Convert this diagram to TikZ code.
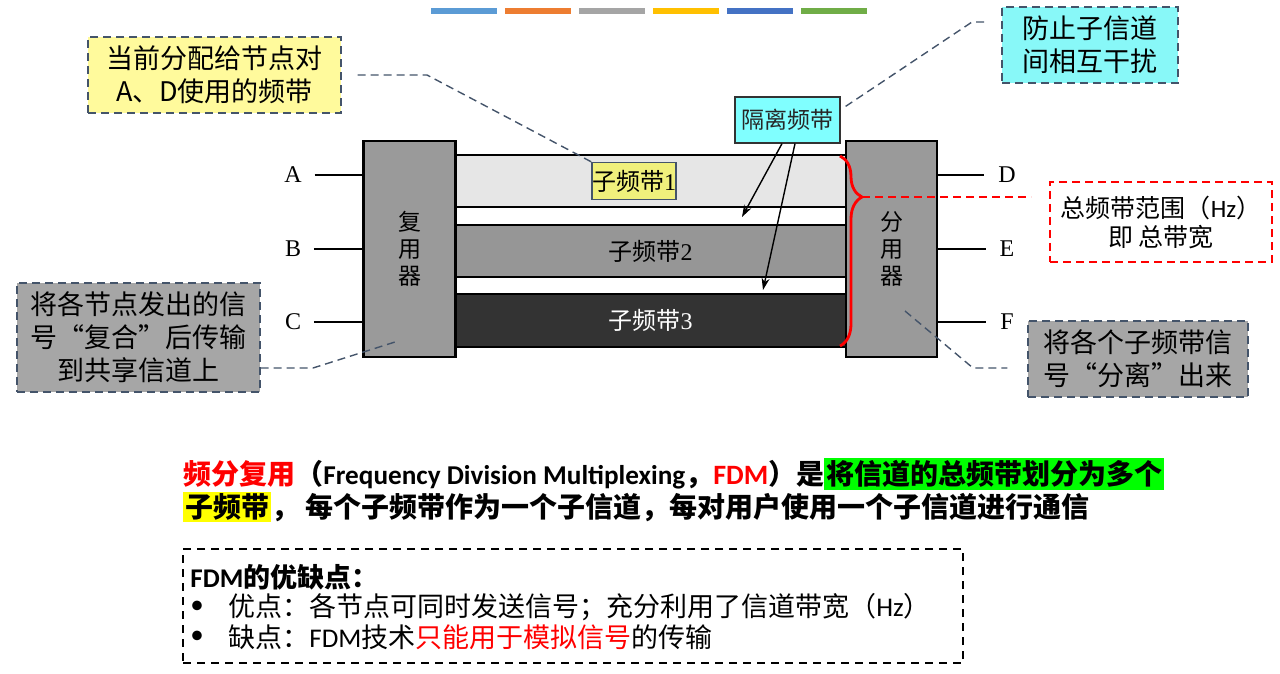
\documentclass[tikz,border=0pt]{standalone}
\usepackage{fontspec}
\setmainfont{Liberation Serif}
\newfontfamily\cjk{Noto Sans CJK SC}
\newfontfamily\lat{Carlito}
\usepackage{xcolor}
\usetikzlibrary{arrows.meta,positioning,calc,decorations.pathreplacing}
\definecolor{slate}{HTML}{44546A}
\definecolor{devgray}{HTML}{9A9A9A}
\definecolor{bandlight}{HTML}{E6E6E6}
\definecolor{bandmid}{HTML}{969696}
\definecolor{banddark}{HTML}{333333}
\definecolor{lblyel}{HTML}{F0F07C}
\definecolor{isocyan}{HTML}{80FFFF}
\definecolor{notecyan}{HTML}{88F8F8}
\definecolor{noteyel}{HTML}{FFFA9C}
\definecolor{notegray}{HTML}{A6A6A6}
\definecolor{hlgreen}{HTML}{00FF00}
\definecolor{hlyel}{HTML}{FFFF00}
\definecolor{barblue}{HTML}{5B9BD5}
\definecolor{barorange}{HTML}{ED7D31}
\definecolor{bargray}{HTML}{A5A5A5}
\definecolor{baryellow}{HTML}{FFC000}
\definecolor{barnavy}{HTML}{4472C4}
\definecolor{bargreen}{HTML}{70AD47}
\setlength{\fboxsep}{1pt}

\begin{document}
\begin{tikzpicture}[
  x=0.5pt,y=-0.5pt,
  devbox/.style={draw=black,line width=1.1pt,fill=devgray,minimum width=46pt,minimum height=108pt,inner sep=0pt,align=center,font=\cjk\fontsize{11.5}{13.5}\selectfont},
  band/.style={draw=black,line width=0.8pt,minimum width=195.5pt,minimum height=26pt,inner sep=0pt,font=\fontsize{12}{14}\selectfont},
  tag/.style={inner sep=0pt,font=\fontsize{12}{14}\selectfont},
  wire/.style={draw=black,line width=0.6pt},
  note/.style={draw=slate,dashed,dash pattern=on 4pt off 2.5pt,line width=0.7pt,inner sep=0pt,align=center,font=\cjk\fontsize{13.5}{16.5}\selectfont},
  lead/.style={draw=slate,dash pattern=on 4pt off 2.5pt,line width=0.7pt},
  arr/.style={-{Stealth[length=6pt,width=4pt]},line width=0.7pt},
  rbrace/.style={decorate,decoration={brace,amplitude=11pt,aspect=0.216},draw=red,line width=1.4pt},
  para/.style={anchor=west,inner sep=0pt,font=\cjk\bfseries\fontsize{14}{16}\selectfont},
  protxt/.style={inner sep=0pt,font=\cjk\fontsize{13.5}{16}\selectfont}
]
\useasboundingbox (0,0) rectangle (1280,674);
% colour strip on top
\foreach \c [count=\i from 0] in {barblue,barorange,bargray,baryellow,barnavy,bargreen}
  \fill[\c] (431+74*\i,8) rectangle +(66,6);

% sub-bands
\node[band,fill=bandlight] (b1) at (650.5,181) {};
\node[band,fill=bandmid] (b2) at (650.5,251) {{\cjk 子频带}2};
\node[band,fill=banddark,minimum height=26.5pt,text=white] (b3) at (650.5,320.5) {{\cjk 子频带}3};
\node[draw=slate,line width=0.6pt,fill=lblyel,minimum width=33pt,minimum height=18.5pt,inner sep=0pt,font=\fontsize{12}{14}\selectfont] (t1) at (634,181) {{\cjk 子频带}1};

% multiplexer / demultiplexer
\node[devbox] (mux) at (409.5,249) {复\\用\\器};
\node[devbox,minimum width=45.5pt] (demux) at (891.5,249) {分\\用\\器};

% inputs and outputs
\node[tag] (lA) at (293,175) {A};
\node[tag] (lB) at (293,249) {B};
\node[tag] (lC) at (293,322) {C};
\node[tag] (lD) at (1007,175) {D};
\node[tag] (lE) at (1007,249) {E};
\node[tag] (lF) at (1007,322) {F};
\foreach \n in {A,B,C}
  \draw[wire,shorten <=6.25pt] (l\n.east) -- (l\n.east -| mux.west);
\foreach \n in {D,E,F}
  \draw[wire,shorten >=6.75pt] (demux.east |- l\n.west) -- (l\n.west);

% guard bands
\node[draw=black!80,line width=0.6pt,fill=isocyan,minimum width=52.5pt,minimum height=23pt,inner sep=0pt,font=\cjk\fontsize{11.5}{14}\selectfont,text=black!85] (iso) at (787.5,120) {隔离频带};
\coordinate (g1) at (742,217);
\coordinate (g2) at (763,290);
\draw[arr] ([xshift=-2.75pt]iso.south) -- (g1);
\draw[arr] ([xshift=3.75pt]iso.south) -- (g2);

% total bandwidth
\draw[rbrace] (840,156) -- (840,346);
\coordinate (btip) at (862,197);
\node[draw=red,dash pattern=on 4pt off 2.5pt,line width=1pt,minimum width=111pt,minimum height=40pt,inner sep=0pt,align=center,font=\cjk\fontsize{12.5}{14.5}\selectfont] (tot) at (1161,222) {总频带范围（{\lat Hz}）\\即 总带宽};
\draw[red,dash pattern=on 4pt off 2.5pt,line width=1pt,shorten >=9pt] (btip) -- (btip -| tot.west);

% callouts
\node[note,fill=noteyel,minimum width=126.5pt,minimum height=38pt] (nA) at (214.5,75) {当前分配给节点对\\A、D使用的频带};
\node[note,fill=notecyan,minimum width=88pt,minimum height=38pt] (nGuard) at (1090,45) {防止子信道\\间相互干扰};
\node[note,fill=notegray,minimum width=121.5pt,minimum height=54.5pt] (nMux) at (138.5,337.5) {将各节点发出的信\\号“复合”后传输\\到共享信道上};
\node[note,fill=notegray,minimum width=110pt,minimum height=38pt] (nDemux) at (1138,359) {将各个子频带信\\号“分离”出来};

\coordinate (k1) at (427,75);
\draw[lead] ([xshift=8pt]nA.east) -- (k1) -- (t1.north west);
\coordinate (k2) at (972,22);
\draw[lead] ([shift={(2.5pt,-5pt)}]iso.north east) -- (k2) -- ([xshift=-7.5pt]nGuard.west |- k2);
\coordinate (k3) at (313,368);
\coordinate (k4) at (395,342);
\draw[lead] (nMux.east |- k3) -- (k3) -- (k4);
\coordinate (k5) at (905,311);
\coordinate (k6) at (973,368);
\draw[lead] (k5) -- (k6) -- ([xshift=-10pt]nDemux.west |- k6);

% definition text
\node[para] (l1) at (183,474) {{\color{red}频分复用}（{\lat\fontsize{13.6}{16}\selectfont Frequency Division Multiplexing}，{\color{red}\lat FDM}）是\colorbox{hlgreen}{将信道的总频带划分为多个}};
\node[para] (l2) at (183,507) {\colorbox{hlyel}{子频带}， 每个子频带作为一个子信道，每对用户使用一个子信道进行通信};

% pros and cons
\node[draw=black,dash pattern=on 4pt off 3pt,line width=0.8pt,minimum width=390pt,minimum height=57pt] (pros) at (573,606) {};
\node[protxt,anchor=west,font=\cjk\bfseries\fontsize{13.5}{16}\selectfont] (ptitle) at (190,577) {{\lat FDM}的优缺点：};
\node[protxt] (dot1) at (197,607) {\lat •};
\node[protxt,anchor=west] (p1) at (228,607) {优点：各节点可同时发送信号；充分利用了信道带宽（{\lat Hz}）};
\node[protxt] (dot2) at (197,637) {\lat •};
\node[protxt,anchor=west] (p2) at (228,637) {缺点：{\lat FDM}技术{\color{red}只能用于模拟信号}的传输};
\end{tikzpicture}
\end{document}
